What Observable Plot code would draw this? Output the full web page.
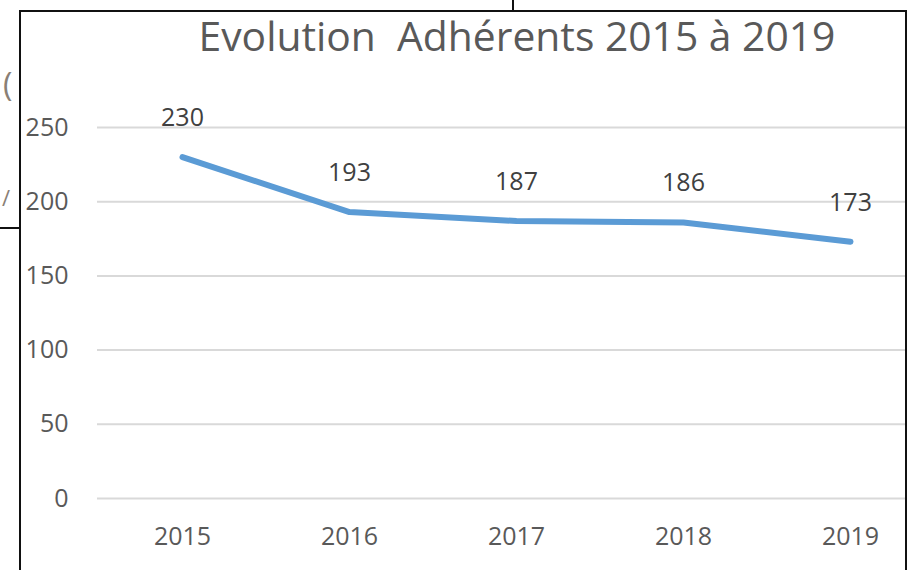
<!DOCTYPE html>
<html>
<head>
<meta charset="utf-8">
<script src="https://cdn.jsdelivr.net/npm/d3@7"></script>
<script src="https://cdn.jsdelivr.net/npm/@observablehq/plot@0.6"></script>
<style>
  html, body { margin: 0; padding: 0; background: #fff; }
  #wrap { position: relative; width: 912px; height: 570px; overflow: hidden; font-family: "Open Sans", sans-serif; background: #fff; }
  #chart { position: absolute; left: 0; top: 0; }
  #frame { position: absolute; left: 19px; top: 10px; width: 888px; height: 600px; border: 2px solid #111; box-sizing: border-box; pointer-events: none; }
  #vline { position: absolute; left: 512px; top: 0; width: 2px; height: 10px; background: #111; }
  #hline { position: absolute; left: 0; top: 227px; width: 20px; height: 2px; background: #111; }
  #title { position: absolute; left: 517px; top: 11px; transform: translateX(-50%); white-space: pre; font-size: 40.8px; line-height: 1.2; color: #595959; }
  .frag { position: absolute; color: #8a7f75; font-size: 32px; line-height: 1; }
</style>
</head>
<body>
<div id="wrap">
  <div id="chart"></div>
  <span class="frag" style="left:3px;top:68px;">(</span>
  <span class="frag" style="left:2px;top:186px;font-size:22px;">/</span>
  <div id="frame"></div>
  <div id="vline"></div>
  <div id="hline"></div>
  <div id="title">Evolution  Adhérents 2015 à 2019</div>
</div>
<script>
const years = ["2015", "2016", "2017", "2018", "2019"];
const adherents = [230, 193, 187, 186, 173];
const yTicks = [0, 50, 100, 150, 200, 250];

const data = years.map((year, i) => ({ year, value: adherents[i] }));

const chart = Plot.plot({
  width: 912,
  height: 570,
  marginLeft: 97,
  marginRight: 7,
  marginTop: 127,
  marginBottom: 72,
  style: { fontFamily: "'Open Sans', sans-serif", background: "transparent" },
  x: { type: "point", domain: years, range: [181, 851], padding: 0, label: null },
  y: { domain: [0, 250], label: null },
  marks: [
    Plot.ruleY(yTicks, { stroke: "#d9d9d9", strokeWidth: 2 }),
    Plot.axisY(yTicks, { tickSize: 0, tickPadding: 29, fontSize: 25, fill: "#595959", label: null }),
    Plot.axisX(years, { tickSize: 0, tickPadding: 29, fontSize: 25, fill: "#595959", label: null }),
    Plot.lineY(data, { x: "year", y: "value", stroke: "#5b9bd5", strokeWidth: 6, strokeLinecap: "round", strokeLinejoin: "round" }),
    Plot.text(data, { x: "year", y: "value", text: d => String(d.value), dy: -39, fontSize: 25, fill: "#404040" })
  ]
});
document.getElementById("chart").appendChild(chart);
</script>
</body>
</html>
